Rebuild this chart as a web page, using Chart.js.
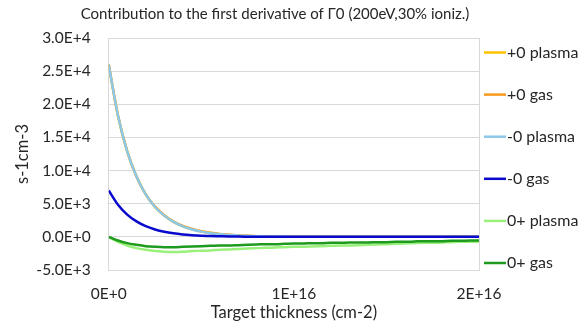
<!DOCTYPE html>
<html>
<head>
<meta charset="utf-8">
<script src="https://cdn.jsdelivr.net/npm/chart.js@4/dist/chart.umd.min.js"></script>
<style>
  html, body { margin: 0; padding: 0; background: #fff; }
  #wrap { width: 587px; height: 329px; }
</style>
</head>
<body>
<div id="wrap"><canvas id="gammaChart" width="587" height="329"></canvas></div>
<script>
// target thickness (cm-2)
const thickness = [
    0, 5e14, 1e15, 1.5e15, 2e15, 2.5e15, 3e15, 3.5e15, 4e15, 4.5e15,
    5e15, 5.5e15, 6e15, 6.5e15, 7e15, 7.5e15, 8e15, 8.5e15, 9e15, 9.5e15,
    1e16, 1.05e16, 1.1e16, 1.15e16, 1.2e16, 1.25e16, 1.3e16, 1.35e16, 1.4e16, 1.45e16,
    1.5e16, 1.55e16, 1.6e16, 1.65e16, 1.7e16, 1.75e16, 1.8e16, 1.85e16, 1.9e16, 1.95e16,
    2e16
];

const seriesNames = ['+0 plasma', '+0 gas', '-0 plasma', '-0 gas', '0+ plasma', '0+ gas'];
const seriesColors = ['#FFC000', '#F79A1E', '#8CC8E8', '#0A0ACC', '#99F07A', '#1E9A1E'];

const plusZeroPlasma = [
    26000, 18300, 12900, 9100, 6400, 4520, 3200, 2260, 1600, 1130,
    800, 570, 400, 285, 200, 140, 100, 70, 50, 40,
    30, 20, 20, 10, 10, 10, 0, 10, 0, 10,
    0, 0, 10, 0, 0, 10, 0, 0, 0, 10,
    0
];
const plusZeroGas = [
    26000, 18300, 12900, 9100, 6400, 4550, 3250, 2300, 1660, 1190,
    860, 620, 440, 310, 220, 160, 110, 80, 60, 40,
    30, 30, 20, 20, 10, 10, 10, 0, 10, 10,
    0, 10, 0, 10, 0, 0, 10, 0, 10, 0,
    10
];
const minusZeroPlasma = [
    26000, 18300, 12900, 9100, 6400, 4500, 3200, 2250, 1580, 1120,
    790, 560, 390, 280, 190, 140, 100, 70, 50, 40,
    30, 20, 20, 10, 10, 10, 0, 10, 0, 0,
    10, 0, 0, 10, 0, 0, 0, 10, 0, 0,
    0
];
const minusZeroGas = [
    7000, 4850, 3360, 2330, 1610, 1120, 770, 530, 370, 260,
    180, 120, 90, 60, 40, 30, 20, 20, 10, 10,
    10, 0, 10, 0, 0, 10, 0, 0, 10, 0,
    0, 0, 10, 0, 0, 0, 10, 0, 0, 0,
    10
];
const zeroPlusPlasma = [
    0, -750, -1300, -1700, -1950, -2150, -2250, -2300, -2250, -2150,
    -2100, -2050, -1950, -1900, -1850, -1750, -1700, -1650, -1600, -1550,
    -1500, -1500, -1450, -1400, -1350, -1300, -1300, -1250, -1200, -1150,
    -1100, -1050, -1000, -950, -900, -900, -850, -800, -750, -750,
    -700
];
const zeroPlusGas = [
    0, -550, -950, -1200, -1400, -1500, -1550, -1550, -1500, -1450,
    -1400, -1350, -1300, -1300, -1250, -1200, -1150, -1100, -1100, -1050,
    -1000, -1000, -950, -950, -900, -900, -850, -850, -850, -800,
    -800, -750, -750, -700, -650, -650, -650, -600, -600, -550,
    -550
];

const seriesValues = [plusZeroPlasma, plusZeroGas, minusZeroPlasma, minusZeroGas, zeroPlusPlasma, zeroPlusGas];

const yTicks = { min: -5000, max: 30000, step: 5000 };
const xTicks = { min: 0, max: 2e16, step: 1e16 };

const FONT = 'Lato, "Open Sans", sans-serif';
const TEXT = '#262626';
const GRID = '#d9d9d9';

const datasets = seriesNames.map((name, i) => ({
    label: name,
    data: thickness.map((t, j) => ({ x: t, y: seriesValues[i][j] })),
    borderColor: seriesColors[i],
    backgroundColor: seriesColors[i],
    borderWidth: 2.5,
    pointRadius: 0,
    cubicInterpolationMode: 'monotone',
    // later series sit on top of earlier ones
    order: seriesNames.length - i
}));

// chart heading, drawn a little left of centre
const headingPlugin = {
    id: 'heading',
    afterDraw(chart) {
        const ctx = chart.ctx;
        ctx.save();
        ctx.font = '15px ' + FONT;
        ctx.fillStyle = TEXT;
        ctx.textAlign = 'center';
        ctx.textBaseline = 'middle';
        ctx.fillText('Contribution to the first derivative of \u03930 (200eV,30% ioniz.)', 275, 14);
        ctx.restore();
    }
};

// legend as a column of short lines beside the plot
const sideLegendPlugin = {
    id: 'sideLegend',
    afterDraw(chart) {
        const ctx = chart.ctx;
        const area = chart.chartArea;
        ctx.save();
        ctx.font = '16px ' + FONT;
        ctx.textBaseline = 'middle';
        ctx.textAlign = 'left';
        chart.data.datasets.forEach((ds, i) => {
            const y = area.top + 14.5 + i * 42.1;
            const x = area.right + 5;
            ctx.strokeStyle = ds.borderColor;
            ctx.lineWidth = 2.5;
            ctx.beginPath();
            ctx.moveTo(x, y);
            ctx.lineTo(x + 22, y);
            ctx.stroke();
            ctx.fillStyle = TEXT;
            ctx.fillText(ds.label, x + 23, y);
        });
        ctx.restore();
    }
};

new Chart(document.getElementById('gammaChart').getContext('2d'), {
    type: 'line',
    data: { datasets },
    plugins: [headingPlugin, sideLegendPlugin],
    options: {
        responsive: false,
        animation: false,
        devicePixelRatio: 1,
        layout: {
            padding: { top: 38, right: 108, left: 8, bottom: 6 }
        },
        scales: {
            x: {
                type: 'linear',
                min: xTicks.min,
                max: xTicks.max,
                afterFit(axis) { axis.height = 329 - 270 - 6; },
                ticks: {
                    stepSize: xTicks.step,
                    color: TEXT,
                    font: { family: FONT, size: 15.5 },
                    padding: 15,
                    maxRotation: 0,
                    callback: v => Number(v).toExponential(0).toUpperCase()
                },
                grid: {
                    drawTicks: false,
                    color: c => (c.tick && c.tick.value === 1e16) ? 'rgba(0,0,0,0)' : GRID,
                    lineWidth: 1
                },
                border: { color: GRID },
                title: {
                    display: true,
                    text: 'Target thickness (cm-2)',
                    color: TEXT,
                    font: { family: FONT, size: 16.5 },
                    padding: { top: 0, bottom: 0 }
                }
            },
            y: {
                min: yTicks.min,
                max: yTicks.max,
                afterFit(axis) { axis.width = 100.7; },
                ticks: {
                    stepSize: yTicks.step,
                    color: TEXT,
                    font: { family: FONT, size: 15.5 },
                    padding: 18,
                    callback: v => Number(v).toExponential(1).toUpperCase()
                },
                grid: { drawTicks: false, color: GRID, lineWidth: 1 },
                border: { color: GRID },
                title: {
                    display: true,
                    text: 's-1cm-3',
                    color: TEXT,
                    font: { family: FONT, size: 16.5 },
                    padding: { top: 5, bottom: 0 }
                }
            }
        },
        plugins: {
            legend: { display: false },
            title: { display: false },
            tooltip: { enabled: false }
        }
    }
});
</script>
</body>
</html>
